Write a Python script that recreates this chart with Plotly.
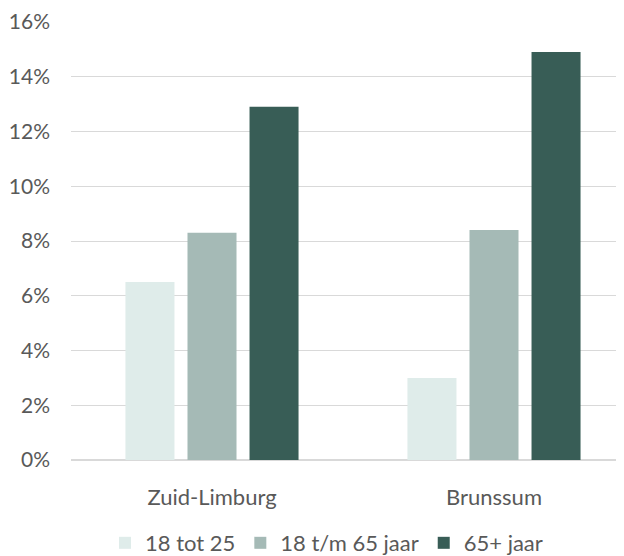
import plotly.graph_objects as go

regions = ["Zuid-Limburg", "Brunssum"]
series_names = ["18 tot 25", "18 t/m 65 jaar", "65+ jaar"]
values_young = [0.065, 0.030]
values_adult = [0.083, 0.084]
values_old = [0.129, 0.149]
colors = ["#DFECEA", "#A5BAB6", "#385D56"]
y_ticks = [0, 0.02, 0.04, 0.06, 0.08, 0.10, 0.12, 0.14, 0.16]

fig = go.Figure()
for name, vals, color in zip(series_names, [values_young, values_adult, values_old], colors):
    fig.add_trace(go.Bar(x=regions, y=vals, name=name, marker=dict(color=color, line=dict(width=0))))

# page body has an 8px margin, figure is offset by it
fig.update_layout(
    width=616,
    height=548,
    barmode="group",
    bargap=0.34,
    bargroupgap=0.21,
    plot_bgcolor="white",
    paper_bgcolor="white",
    font=dict(family="Lato, Open Sans, sans-serif", size=21, color="#595959"),
    margin=dict(t=14, b=96, l=63, r=0, autoexpand=False),
    legend=dict(
        orientation="h",
        x=0.0615,
        xanchor="left",
        yref="container",
        y=0.0237,
        yanchor="middle",
        font=dict(size=22),
        itemwidth=30,
        traceorder="normal",
    ),
)
fig.update_yaxes(
    range=[0, 0.16],
    tickvals=y_ticks,
    tickformat=".0%",
    showgrid=True,
    gridcolor="#D9D9D9",
    gridwidth=1,
    zeroline=True,
    zerolinecolor="#D9D9D9",
    ticklabelstandoff=20,
    showline=False,
    automargin=False,
)
fig.update_xaxes(
    range=[-0.5, 1.461],
    showline=False,
    ticklabelstandoff=22,
    tickfont=dict(size=22),
    automargin=False,
)
fig.write_html("out.html")
